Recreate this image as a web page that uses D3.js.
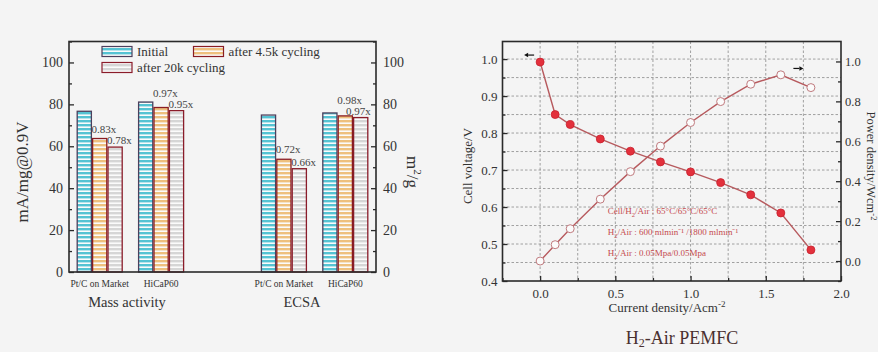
<!DOCTYPE html>
<html><head><meta charset="utf-8">
<script src="https://cdn.jsdelivr.net/npm/d3@7"></script>
<style>
body{margin:0;background:#f4f4f4}
svg{display:block}
text{font-family:"Liberation Serif","Times New Roman",serif}
</style></head>
<body><svg id="c" width="878" height="352"></svg>
<script>
// ---------------- data (left: bar chart) ----------------
const categories = ["Pt/C on Market", "HiCaP60", "Pt/C on Market", "HiCaP60"];
const panelOf = ["Mass activity", "Mass activity", "ECSA", "ECSA"];
const panels = ["Mass activity", "ECSA"];
const seriesNames = ["Initial", "after 4.5k cycling", "after 20k cycling"];
const initialVals = [76.7, 81.1, 74.9, 75.9];
const after45kVals = [63.7, 78.5, 53.8, 74.5];
const after20kVals = [59.6, 77.0, 49.3, 73.7];
const ratio45k = ["0.83x", "0.97x", "0.72x", "0.98x"];
const ratio20k = ["0.78x", "0.95x", "0.66x", "0.97x"];
const barTicks = [0, 20, 40, 60, 80, 100];
const barMinorTicks = [10, 30, 50, 70, 90, 110];

// ---------------- data (right: PEMFC polarization) ----------------
const currentDensity = [0.0, 0.1, 0.2, 0.4, 0.6, 0.8, 1.0, 1.2, 1.4, 1.6, 1.8];
const cellVoltage = [0.992, 0.850, 0.823, 0.784, 0.751, 0.722, 0.695, 0.666, 0.633, 0.584, 0.484];
const powerDensity = [0.0, 0.082, 0.162, 0.310, 0.448, 0.576, 0.694, 0.799, 0.886, 0.933, 0.869];
const xTicks = [0.0, 0.5, 1.0, 1.5, 2.0];
const xGrid = [0.0, 0.25, 0.5, 0.75, 1.0, 1.25, 1.5, 1.75];
const vTicks = [0.4, 0.5, 0.6, 0.7, 0.8, 0.9, 1.0];
const vGrid = [0.45, 0.5, 0.55, 0.6, 0.65, 0.7, 0.75, 0.8, 0.85, 0.9, 0.95, 1.0];
const pTicks = [0.0, 0.2, 0.4, 0.6, 0.8, 1.0];
const pMinor = [-0.1, 0.1, 0.3, 0.5, 0.7, 0.9];
const conditions = [
  ["Cell/H", "2", "/Air : 65°C/65°C/65°C"],
  ["H", "2", "/Air : 600 mlmin⁻¹ /1800 mlmin⁻¹"],
  ["H", "2", "/Air : 0.05Mpa/0.05Mpa"]
];

const svg = d3.select("#c");
const ink = "#2a2a2a";

// ---------------- patterns ----------------
const defs = svg.append("defs");
const fills = ["#55c3d3", "#eec07e", "#d6d6d6"];
const strokes = ["#4b3f5c", "#8a1c22", "#8a1c2a"];
fills.forEach((c, i) => {
  const p = defs.append("pattern").attr("id", "pat" + i)
    .attr("patternUnits", "userSpaceOnUse").attr("width", 6).attr("height", 4);
  p.append("rect").attr("width", 6).attr("height", 4).attr("fill", "#fbfbfb");
  p.append("rect").attr("width", 6).attr("height", 2.4).attr("fill", c);
});

// ================= LEFT CHART =================
const LB = {x0: 69, x1: 376, y0: 41.5, y1: 272};
const slotOf = categories.map((c, i) => i + panels.indexOf(panelOf[i]));
const xs = d3.scaleLinear().domain([-0.5, 4.5]).range([LB.x0, LB.x1]);
const inner = d3.scaleBand().domain(seriesNames).range([-22.5, 22.5]).paddingInner(0.08);
const yB = d3.scaleLinear().domain([0, 110]).range([LB.y1, LB.y0]);

const seriesVals = [initialVals, after45kVals, after20kVals];
const gL = svg.append("g");

seriesNames.forEach((s, si) => {
  gL.selectAll(".bar" + si).data(seriesVals[si]).join("rect")
    .attr("x", (d, i) => xs(slotOf[i]) + inner(s))
    .attr("width", inner.bandwidth())
    .attr("y", d => yB(d))
    .attr("height", d => yB(0) - yB(d))
    .attr("fill", `url(#pat${si})`)
    .attr("stroke", strokes[si]).attr("stroke-width", 1.3);
});

// ratio labels
const lblW = 26;
categories.forEach((c, i) => {
  const x2 = xs(slotOf[i]) + inner(seriesNames[2]);
  const x1 = xs(slotOf[i]) + inner(seriesNames[1]);
  const b20 = yB(after20kVals[i]) - 3;
  const b45 = Math.min(yB(after45kVals[i]) - 6, b20 - 11);
  gL.append("text").attr("x", Math.min(x1 - 1, LB.x1 - lblW - 4)).attr("y", b45)
    .attr("font-size", 11).attr("fill", "#444").text(ratio45k[i]);
  gL.append("text").attr("x", Math.min(x2 - 1, LB.x1 - lblW - 4)).attr("y", b20)
    .attr("font-size", 11).attr("fill", "#444").text(ratio20k[i]);
});

// axes
const axL = d3.axisLeft(yB).tickValues(barTicks).tickSize(-5).tickPadding(6);
const axLm = d3.axisLeft(yB).tickValues(barMinorTicks).tickSize(-3).tickFormat("");
const axR = d3.axisRight(yB).tickValues(barTicks).tickSize(-5).tickPadding(7);
const axRm = d3.axisRight(yB).tickValues(barMinorTicks).tickSize(-3).tickFormat("");
function styleAx(g, fs) {
  g.select(".domain").remove();
  g.selectAll("line").attr("stroke", ink).attr("stroke-width", 1.3);
  g.selectAll("text").attr("font-size", fs).attr("fill", "#333")
    .attr("font-family", '"Liberation Serif",serif');
}
gL.append("g").attr("transform", `translate(${LB.x0},0)`).call(axL).call(styleAx, 14);
gL.append("g").attr("transform", `translate(${LB.x0},0)`).call(axLm).call(styleAx, 14);
gL.append("g").attr("transform", `translate(${LB.x1},0)`).call(axR).call(styleAx, 14);
gL.append("g").attr("transform", `translate(${LB.x1},0)`).call(axRm).call(styleAx, 14);
gL.append("rect").attr("x", LB.x0).attr("y", LB.y0)
  .attr("width", LB.x1 - LB.x0).attr("height", LB.y1 - LB.y0)
  .attr("fill", "none").attr("stroke", ink).attr("stroke-width", 1.6);

// category labels
categories.forEach((c, i) => {
  gL.append("text").attr("x", xs(slotOf[i])).attr("y", 287)
    .attr("text-anchor", "middle").attr("font-size", 9.5).attr("fill", "#333").text(c);
});
// panel labels
gL.append("text").attr("x", 127).attr("y", 307).attr("text-anchor", "middle")
  .attr("font-size", 14.5).attr("fill", "#333").text(panels[0]);
gL.append("text").attr("x", 302).attr("y", 307).attr("text-anchor", "middle")
  .attr("font-size", 14.5).attr("fill", "#333").text(panels[1]);

// axis titles
gL.append("text").attr("transform", "translate(28,172) rotate(-90)")
  .attr("text-anchor", "middle").attr("font-size", 17).attr("fill", "#333")
  .text("mA/mg@0.9V");
const mt = gL.append("text").attr("transform", "translate(407,172) rotate(90)")
  .attr("text-anchor", "middle").attr("font-size", 17).attr("fill", "#333");
mt.append("tspan").text("m");
mt.append("tspan").attr("dy", -7).attr("font-size", 11).text("2");
mt.append("tspan").attr("dy", 7).text("/g");

// legend
const legend = [
  {name: seriesNames[0], i: 0, x: 102, y: 46.5},
  {name: seriesNames[1], i: 1, x: 193.5, y: 46.5},
  {name: seriesNames[2], i: 2, x: 102, y: 62.5}
];
legend.forEach(l => {
  gL.append("rect").attr("x", l.x).attr("y", l.y).attr("width", 30).attr("height", 10)
    .attr("fill", `url(#pat${l.i})`).attr("stroke", strokes[l.i]).attr("stroke-width", 1.2);
  gL.append("text").attr("x", l.x + 35).attr("y", l.y + 9.5).attr("font-size", 13)
    .attr("fill", "#333").text(l.name);
});

// ================= RIGHT CHART =================
const RB = {x0: 502.5, x1: 841, y0: 41.5, y1: 281};
const xP = d3.scaleLinear().domain([-0.25, 2.0]).range([RB.x0, RB.x1]);
const yV = d3.scaleLinear().domain([0.4, 1.0475]).range([RB.y1, RB.y0]);
const yP = d3.scaleLinear().domain([-0.1, 1.1]).range([RB.y1, RB.y0]);
const gR = svg.append("g");

// grid
gR.selectAll(".vg").data(xGrid).join("line")
  .attr("x1", d => xP(d)).attr("x2", d => xP(d)).attr("y1", RB.y0).attr("y2", RB.y1)
  .attr("stroke", "#8a8a8a").attr("stroke-width", 0.8).attr("stroke-dasharray", "2.5,2");
gR.selectAll(".hg").data(vGrid).join("line")
  .attr("x1", RB.x0).attr("x2", RB.x1).attr("y1", d => yV(d)).attr("y2", d => yV(d))
  .attr("stroke", "#8a8a8a").attr("stroke-width", 0.8).attr("stroke-dasharray", "2.5,2");

// axes
const axV = d3.axisLeft(yV).tickValues(vTicks).tickFormat(d3.format(".1f")).tickSize(-5).tickPadding(5);
const axVm = d3.axisLeft(yV).tickValues(vGrid.filter(v => Math.round(v * 100) % 10 !== 0)).tickSize(-3).tickFormat("");
const axX = d3.axisBottom(xP).tickValues(xTicks).tickFormat(d3.format(".1f")).tickSize(-5).tickPadding(8);
const axXm = d3.axisBottom(xP).tickValues([-0.25, 0.25, 0.75, 1.25, 1.75]).tickSize(-3).tickFormat("");
const axP = d3.axisRight(yP).tickValues(pTicks).tickFormat(d3.format(".1f")).tickSize(-5).tickPadding(4);
const axPm = d3.axisRight(yP).tickValues(pMinor).tickSize(-3).tickFormat("");
gR.append("g").attr("transform", `translate(${RB.x0},0)`).call(axV).call(styleAx, 13);
gR.append("g").attr("transform", `translate(${RB.x0},0)`).call(axVm).call(styleAx, 13);
gR.append("g").attr("transform", `translate(0,${RB.y1})`).call(axX).call(styleAx, 13);
gR.append("g").attr("transform", `translate(0,${RB.y1})`).call(axXm).call(styleAx, 13);
gR.append("g").attr("transform", `translate(${RB.x1},0)`).call(axP).call(styleAx, 12.5);
gR.append("g").attr("transform", `translate(${RB.x1},0)`).call(axPm).call(styleAx, 12.5);
gR.append("rect").attr("x", RB.x0).attr("y", RB.y0)
  .attr("width", RB.x1 - RB.x0).attr("height", RB.y1 - RB.y0)
  .attr("fill", "none").attr("stroke", ink).attr("stroke-width", 1.6);

// lines
const vPts = currentDensity.map((x, i) => [x, cellVoltage[i]]);
const pPts = currentDensity.map((x, i) => [x, powerDensity[i]]);
gR.append("path").datum(vPts)
  .attr("d", d3.line().x(d => xP(d[0])).y(d => yV(d[1])))
  .attr("fill", "none").attr("stroke", "#b75a5e").attr("stroke-width", 1.4);
gR.append("path").datum(pPts)
  .attr("d", d3.line().x(d => xP(d[0])).y(d => yP(d[1])))
  .attr("fill", "none").attr("stroke", "#b75a5e").attr("stroke-width", 1.4);
gR.selectAll(".vp").data(vPts).join("circle")
  .attr("cx", d => xP(d[0])).attr("cy", d => yV(d[1])).attr("r", 4)
  .attr("fill", "#e3303c").attr("stroke", "#c8202c").attr("stroke-width", 0.8);
gR.selectAll(".pp").data(pPts).join("circle")
  .attr("cx", d => xP(d[0])).attr("cy", d => yP(d[1])).attr("r", 4)
  .attr("fill", "#fbfbfb").attr("stroke", "#c07a7e").attr("stroke-width", 1);

// arrows indicating axes
const arr = (x, y, dir) => {
  const l = 6;
  gR.append("line").attr("x1", x).attr("y1", y).attr("x2", x + dir * l).attr("y2", y)
    .attr("stroke", "#111").attr("stroke-width", 1.2);
  gR.append("path").attr("d", `M${x + dir * (l + 4)},${y} L${x + dir * l},${y - 2.2} L${x + dir * l},${y + 2.2} Z`)
    .attr("fill", "#111");
};
arr(xP(0) - 6, yV(1.0) - 4, -1);
arr(xP(1.75) - 10, yP(0.965), 1);

// condition annotations
conditions.forEach((c, i) => {
  const t = gR.append("text").attr("x", xP(0.45)).attr("y", 214 + i * 21)
    .attr("font-size", 9).attr("fill", "#c54a4e");
  t.append("tspan").text(c[0]);
  t.append("tspan").attr("dy", 2.5).attr("font-size", 6.5).text(c[1]);
  t.append("tspan").attr("dy", -2.5).text(c[2]);
});

// titles
gR.append("text").attr("transform", "translate(472,166) rotate(-90)")
  .attr("text-anchor", "middle").attr("font-size", 13).attr("fill", "#333")
  .text("Cell voltage/V");
const pt = gR.append("text").attr("transform", "translate(867,166) rotate(90)")
  .attr("text-anchor", "middle").attr("font-size", 12.5).attr("fill", "#333");
pt.append("tspan").text("Power density/Wcm");
pt.append("tspan").attr("dy", -4).attr("font-size", 8.5).text("-2");
const xt = gR.append("text").attr("x", 667).attr("y", 312)
  .attr("text-anchor", "middle").attr("font-size", 13).attr("fill", "#333");
xt.append("tspan").text("Current density/Acm");
xt.append("tspan").attr("dy", -5).attr("font-size", 9).text("-2");
const ti = gR.append("text").attr("x", 682).attr("y", 344)
  .attr("text-anchor", "middle").attr("font-size", 18).attr("fill", "#4a3030");
ti.append("tspan").text("H");
ti.append("tspan").attr("dy", 3).attr("font-size", 12).text("2");
ti.append("tspan").attr("dy", -3).text("-Air PEMFC");
</script></body></html>
